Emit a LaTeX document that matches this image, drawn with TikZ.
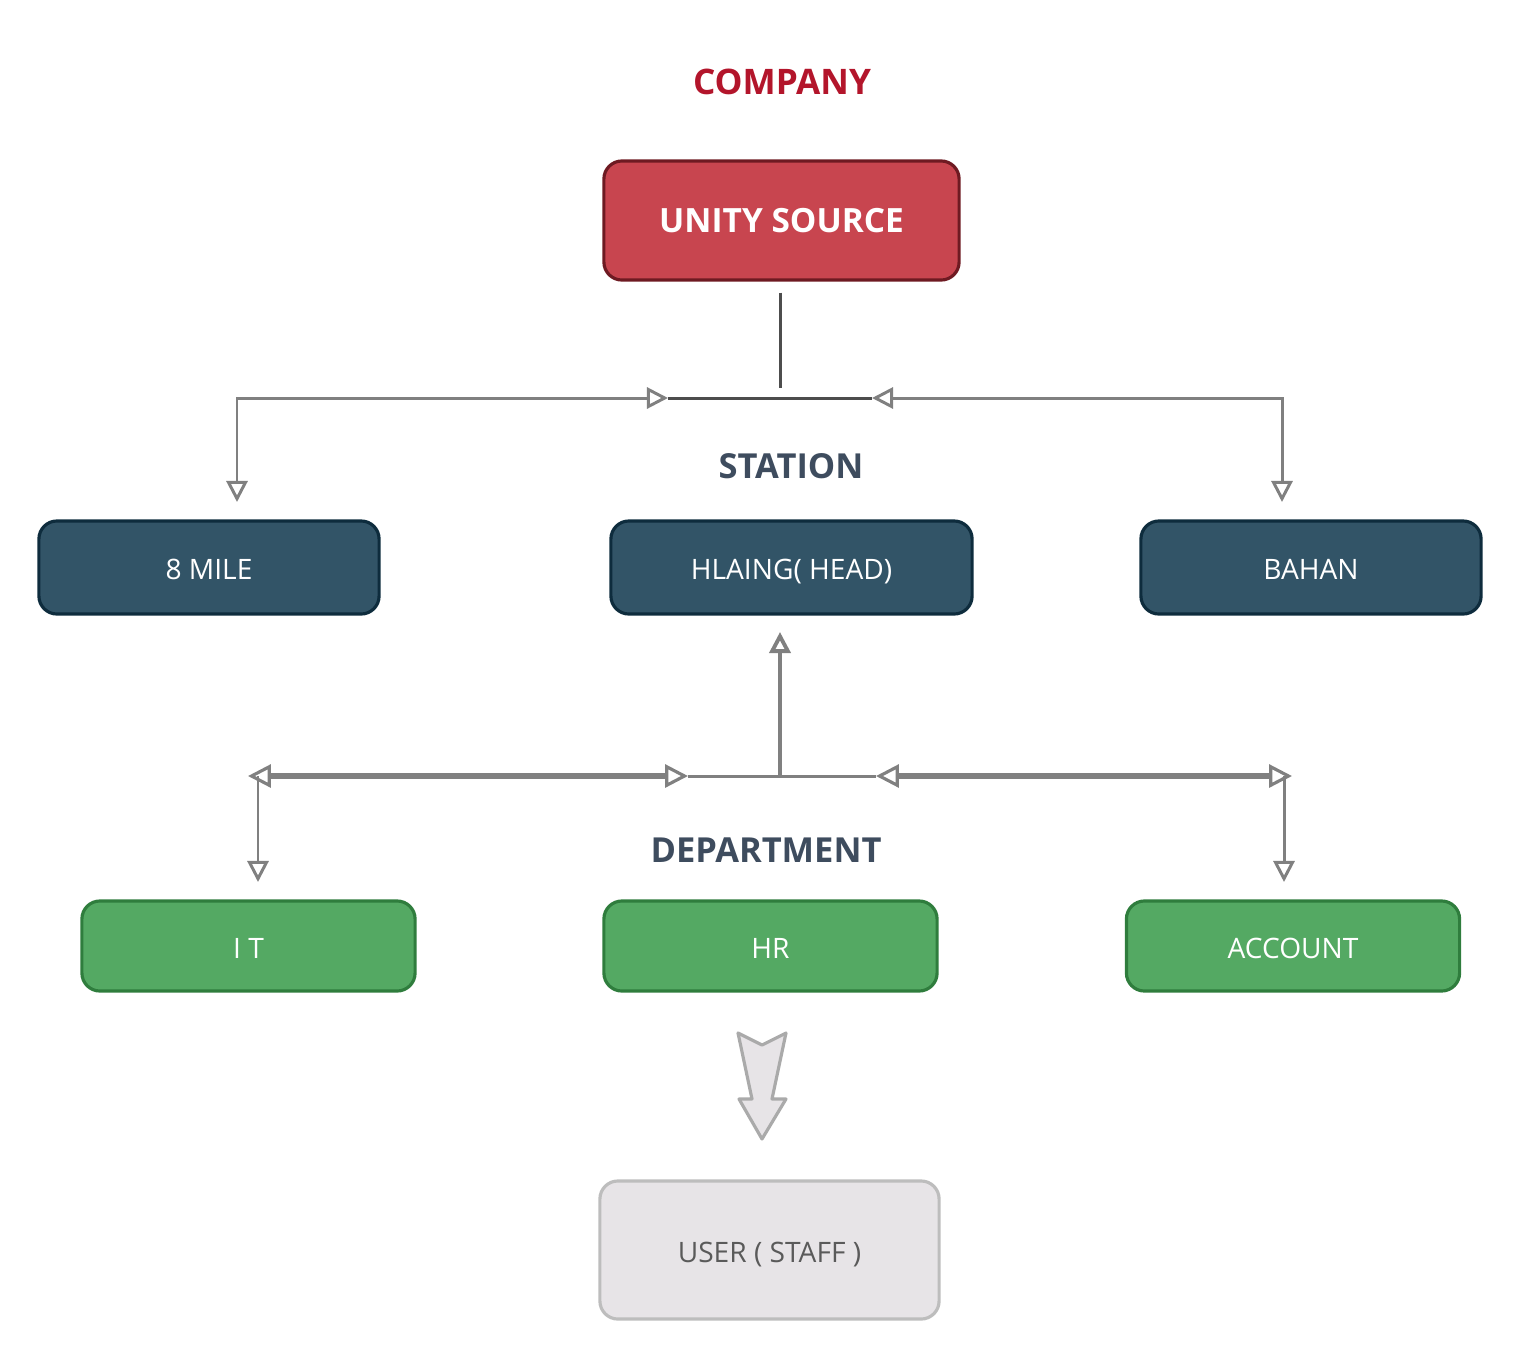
\documentclass[tikz,border=0pt]{standalone}
\usepackage{fontspec}
\setmainfont{Open Sans}
\usetikzlibrary{arrows.meta}
\definecolor{companyred}{HTML}{B3152B}
\definecolor{unityfill}{HTML}{C8454F}
\definecolor{unityline}{HTML}{6E1A22}
\definecolor{headtext}{HTML}{3E4C5E}
\definecolor{stationfill}{HTML}{325467}
\definecolor{stationline}{HTML}{0E2C3D}
\definecolor{deptfill}{HTML}{54A963}
\definecolor{deptline}{HTML}{2F7D3D}
\definecolor{linkgray}{HTML}{808080}
\definecolor{hubgray}{HTML}{4D4D4D}
\definecolor{userfill}{HTML}{E7E4E7}
\definecolor{userline}{HTML}{BDBDBD}
\definecolor{usertext}{HTML}{5A5A5A}
\begin{document}
\begin{tikzpicture}[x=0.01cm,y=-0.01cm]
    \tikzset{
    box/.style={rectangle,rounded corners=0.18cm,line width=0.9pt,minimum height=0.93cm,text=white,
      text height=1.4ex,text depth=0.1ex,font=\fontsize{8}{10}\selectfont},
    unitybox/.style={box,fill=unityfill,draw=unityline,minimum width=3.55cm,minimum height=1.19cm,font=\fontsize{9.5}{11}\selectfont\bfseries},
    stationbox/.style={box,fill=stationfill,draw=stationline,minimum width=3.4cm},
    deptbox/.style={box,fill=deptfill,draw=deptline,minimum width=3.33cm,minimum height=0.9cm},
    userbox/.style={box,fill=userfill,draw=userline,text=usertext,minimum width=3.39cm,minimum height=1.38cm},
    heading/.style={text=headtext,font=\fontsize{9.8}{11}\selectfont\bfseries},
    link/.style={draw=linkgray,line width=0.85pt,>={Triangle[open,length=6pt,width=6pt]}},
    biglink/.style={draw=linkgray,line width=1.5pt,>={Triangle[open,length=6.5pt,width=6.5pt,line width=0.9pt]}},
    hub/.style={draw=hubgray,line width=0.85pt},
    }
    \useasboundingbox (0,0) rectangle (1521,1360);
    % titles
    \node[text=companyred,font=\fontsize{10}{12}\selectfont\bfseries] (company) at (782,82) {COMPANY};
    \node[heading] (station) at (791,466) {STATION};
    \node[heading] (dept) at (766,850) {DEPARTMENT};
    % boxes
    \node[unitybox] (unity) at (781.5,220.5) {UNITY SOURCE};
    \node[stationbox] (mile) at (209,567.5) {8 MILE};
    \node[stationbox,minimum width=3.61cm] (hlaing) at (791.5,567.5) {HLAING( HEAD)};
    \node[stationbox] (bahan) at (1311,567.5) {BAHAN};
    \node[deptbox] (it) at (248.5,946) {I T};
    \node[deptbox] (hr) at (770.5,946) {HR};
    \node[deptbox] (account) at (1293,946) {ACCOUNT};
    \node[userbox] (user) at (769.5,1250) {USER ( STAFF )};
    % station links
    \coordinate (tj) at (780,388);
    \coordinate (sl) at (668,398);
    \coordinate (sr) at (872,398);
    \coordinate (m1) at (237,502);
    \coordinate (b1) at (1282,502);
    \draw[hub,shorten <=0.11cm] (unity.south -| tj) -- (tj);
    \draw[hub] (sl) -- (sr);
    \draw[link,<->] (sl) -| (m1);
    \draw[link,<->] (sr) -| (b1);
    % department links
    \coordinate (dc) at (780,776);
    \coordinate (h1) at (780,632);
    \coordinate (dl) at (248,776);
    \coordinate (dlm) at (688,776);
    \coordinate (drm) at (876,776);
    \coordinate (dr) at (1292,776);
    \coordinate (il) at (258,776);
    \coordinate (i1) at (258,882);
    \coordinate (al) at (1284,776);
    \coordinate (a1) at (1284,882);
    \draw[link,->,line width=1.1pt] (dc) -- (h1);
    \draw[link] (dlm) -- (drm);
    \draw[biglink,<->] (dl) -- (dlm);
    \draw[biglink,<->] (drm) -- (dr);
    \draw[link,->] (il) -- (i1);
    \draw[link,->] (al) -- (a1);
    % to user
    \draw[fill=userfill,draw=userline!90!black,line width=0.9pt,line join=round]
        (738,1033) -- (762,1045) -- (786,1033) -- (772,1099) -- (786,1099)
        -- (762,1139) -- (739,1099) -- (752,1099) -- cycle;
\end{tikzpicture}
\end{document}
